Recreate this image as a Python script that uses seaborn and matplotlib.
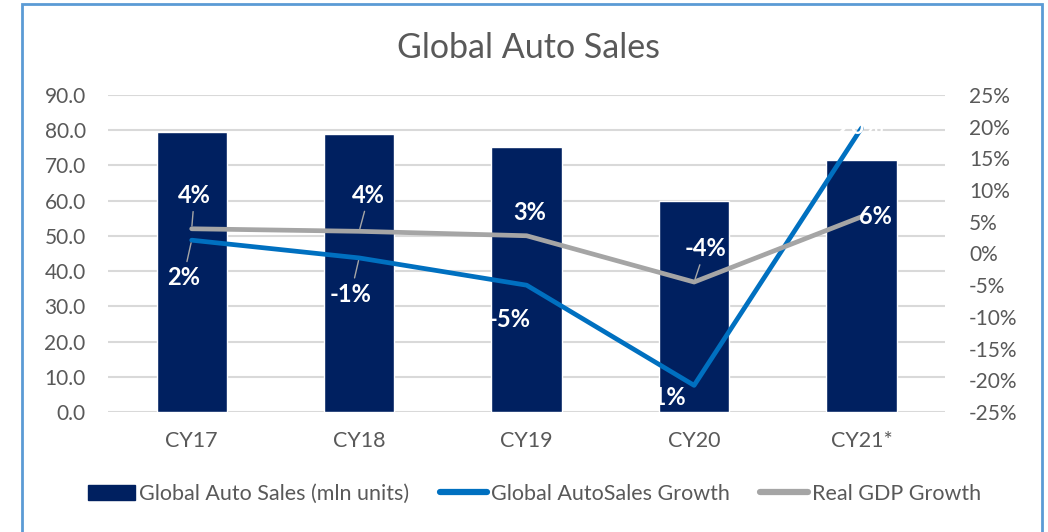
import numpy as np
import pandas as pd
import matplotlib
matplotlib.use('Agg')
import matplotlib.pyplot as plt
import seaborn as sns
from matplotlib.patches import Patch, Rectangle
from matplotlib.lines import Line2D
from matplotlib.ticker import FuncFormatter

# values
years = ['CY17', 'CY18', 'CY19', 'CY20', 'CY21*']
auto_sales = [79.4, 79.0, 75.2, 59.8, 71.5]          # mln units
sales_growth = [2.1, -0.7, -5.0, -20.8, 19.8]        # %
gdp_growth = [3.9, 3.5, 2.8, -4.5, 5.8]              # %
sales_labels = ['2%', '-1%', '-5%', '-21%', '20%']
gdp_labels = ['4%', '4%', '3%', '-4%', '6%']

NAVY = '#002060'
BLUE = '#0070C0'
GRAY = '#A5A5A5'
TXT = '#595959'

sns.set_theme(style='white')
plt.rcParams['font.family'] = ['Lato', 'DejaVu Sans']

df = pd.DataFrame({'year': years, 'sales': auto_sales,
                   'growth': sales_growth, 'gdp': gdp_growth})

fig = plt.figure(figsize=(10.48, 5.32), dpi=100)
ax = fig.add_axes([0.103, 0.2256, 0.799, 0.5958])

sns.barplot(data=df, x='year', y='sales', color=NAVY, saturation=1,
            width=0.42, ax=ax, zorder=2)
ax.set_ylim(0, 90)
ax.set_yticks(np.arange(0, 91, 10))
ax.yaxis.set_major_formatter(FuncFormatter(lambda v, p: f'{v:.1f}'))
ax.grid(axis='y', color='#D9D9D9', lw=1.5, zorder=0)
ax.set_axisbelow(True)
ax.set_xlabel('')
ax.set_ylabel('')
ax.set_xlim(-0.5, 4.5)
ax.tick_params(axis='y', labelsize=15, labelcolor=TXT, pad=16, length=0)
ax.tick_params(axis='x', labelsize=15.5, labelcolor=TXT, pad=14, length=0)
for s in ax.spines.values():
    s.set_visible(False)

ax2 = ax.twinx()
sns.lineplot(data=df, x='year', y='growth', color=BLUE, lw=3.4, sort=False,
             ax=ax2, legend=False, solid_capstyle='round')
sns.lineplot(data=df, x='year', y='gdp', color=GRAY, lw=3.4, sort=False,
             ax=ax2, legend=False, solid_capstyle='round')
ax2.set_ylim(-25, 25)
ax2.set_yticks(np.arange(-25, 26, 5))
ax2.yaxis.set_major_formatter(FuncFormatter(lambda v, p: f'{v:.0f}%'))
ax2.tick_params(axis='y', labelsize=15, labelcolor=TXT, pad=17, length=0)
ax2.set_ylabel('')
ax2.set_xlabel('')
ax2.grid(False)
for s in ax2.spines.values():
    s.set_visible(False)

lbl = dict(color='white', fontsize=17, fontweight='bold', ha='center',
           va='center', textcoords='offset points')
lead = dict(arrowstyle='-', color='#A6A6A6', lw=1, shrinkA=1, shrinkB=2)

# offsets in points (dx, dy) and whether a leader line is drawn
gdp_off = [(2, 24, True), (7, 26, True), (2, 17, False), (8, 24, True), (10, 0, False)]
sales_off = [(-6, -27, True), (-6, -26, True), (-12, -25, False), (-26, -9, False), (-1, 1, False)]

for yr, v, t, (dx, dy, ld) in zip(years, gdp_growth, gdp_labels, gdp_off):
    ax2.annotate(t, xy=(yr, v), xytext=(dx, dy),
                 arrowprops=lead if ld else None, zorder=5, **lbl)
for yr, v, t, (dx, dy, ld) in zip(years, sales_growth, sales_labels, sales_off):
    ax2.annotate(t, xy=(yr, v), xytext=(dx, dy),
                 arrowprops=lead if ld else None, zorder=5, **lbl)

fig.text(0.504, 0.91, 'Global Auto Sales', ha='center', va='center',
         fontsize=24.5, color=TXT)

handles = [Patch(facecolor=NAVY, edgecolor=NAVY),
           Line2D([], [], color=BLUE, lw=4.5),
           Line2D([], [], color=GRAY, lw=4.5)]
names = ['Global Auto Sales (mln units)', 'Global AutoSales Growth', 'Real GDP Growth']
fig.legend(handles, names, loc='center', bbox_to_anchor=(0.51, 0.072), ncol=3,
           frameon=False, fontsize=15.5, labelcolor=TXT, handlelength=2.2,
           handletextpad=0.2, columnspacing=1.4)

fig.patches.append(Rectangle((22 / 1048, -0.02), 1020 / 1048, 1.02 - 4 / 532,
                             transform=fig.transFigure, fill=False,
                             edgecolor='#5B9BD5', lw=2))

fig.savefig('out.png', dpi=100)
